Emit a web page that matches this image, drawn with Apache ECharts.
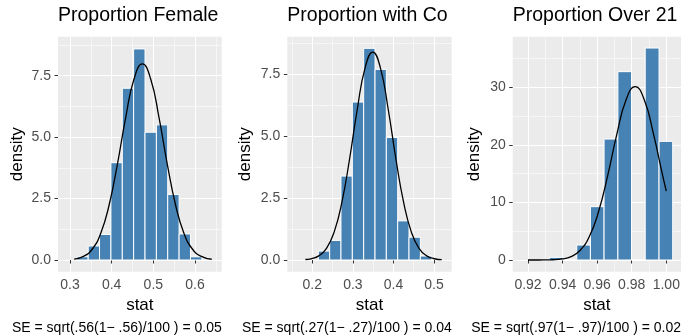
<!DOCTYPE html>
<html>
<head>
<meta charset="utf-8">
<script src="https://cdn.jsdelivr.net/npm/echarts@6/dist/echarts.min.js"></script>
<style>
  html, body { margin: 0; padding: 0; background: #fff; }
  #chart { width: 687px; height: 336px; }
</style>
</head>
<body>
<div id="chart"></div>
<script>
// panel titles + captions
const titles = ['Proportion Female', 'Proportion with Co', 'Proportion Over 21'];
const captions = [
  'SE = sqrt(.56(1\u2212 .56)/100 ) = 0.05',
  'SE = sqrt(.27(1\u2212 .27)/100 ) = 0.04',
  'SE = sqrt(.97(1\u2212 .97)/100 ) = 0.02'
];

// histogram bin edges and densities
const femaleBreaks = [0.3164, 0.3437, 0.3709, 0.3982, 0.4255, 0.4527, 0.4800, 0.5073, 0.5345, 0.5618, 0.5891, 0.6164];
const femaleDensity = [0.13, 0.57, 1.04, 3.96, 6.99, 8.59, 5.2, 5.5, 2.67, 1.06, 0.13];
const collegeBreaks = [0.2148, 0.2428, 0.2707, 0.2987, 0.3266, 0.3546, 0.3825, 0.4105, 0.4384, 0.4664, 0.4943];
const collegeDensity = [0.36, 0.79, 3.39, 6.38, 8.55, 7.70, 4.95, 1.58, 0.92, 0.16];
const over21Breaks = [0.9323, 0.9402, 0.9482, 0.9561, 0.9640, 0.9720, 0.9799, 0.9878, 0.9958, 1.0037];
const over21Density = [0.46, 0, 2.6, 9.26, 21.0, 32.7, 0, 36.8, 20.6];

// normal curve points
const femaleCurve = [[0.31, 0.038], [0.3336, 0.158], [0.3536, 0.448], [0.3736, 1.080], [0.3936, 2.218], [0.4136, 3.884],
  [0.4336, 5.794], [0.4536, 7.366], [0.4736, 7.979], [0.4936, 7.366], [0.5136, 5.794], [0.5336, 3.884],
  [0.5536, 2.218], [0.5736, 1.080], [0.5936, 0.448], [0.6136, 0.158], [0.64, 0.031]];
const collegeCurve = [[0.183, 0.019], [0.197, 0.050], [0.216, 0.167], [0.235, 0.472], [0.254, 1.137], [0.273, 2.335],
  [0.292, 4.089], [0.311, 6.099], [0.330, 7.753], [0.349, 8.399], [0.368, 7.753], [0.387, 6.099],
  [0.406, 4.089], [0.425, 2.335], [0.444, 1.137], [0.463, 0.472], [0.482, 0.167], [0.501, 0.050], [0.519, 0.014]];
const over21Curve = [[0.92, 0.001], [0.9237, 0.002], [0.929, 0.010], [0.9343, 0.046], [0.9396, 0.180], [0.9449, 0.597],
  [0.9502, 1.689], [0.9555, 4.074], [0.9608, 8.371], [0.9661, 14.66], [0.9714, 21.86], [0.9767, 27.79],
  [0.982, 30.11], [0.9873, 27.79], [0.9926, 21.86], [0.9979, 14.66], [1.00, 11.97]];

// axis ticks
const femaleXTicks = [0.3, 0.4, 0.5, 0.6];
const femaleXMinor = [0.35, 0.45, 0.55, 0.65];
const collegeXTicks = [0.2, 0.3, 0.4, 0.5];
const collegeXMinor = [0.15, 0.25, 0.35, 0.45];
const over21XTicks = [0.92, 0.94, 0.96, 0.98, 1.00];
const over21XMinor = [0.93, 0.95, 0.97, 0.99];
const densityYTicks = [0, 2.5, 5, 7.5];
const densityYMinor = [1.25, 3.75, 6.25, 8.75];
const over21YTicks = [0, 10, 20, 30];
const over21YMinor = [5, 15, 25, 35];

const FONT = 'Liberation Sans, Arial, sans-serif';

const panels = [
  {grid: {left: 58, top: 36.7, width: 163.7, height: 235}, xMin: 0.2712, xMax: 0.664, yMin: -0.476, yMax: 9.088,
    breaks: femaleBreaks, dens: femaleDensity, curve: femaleCurve,
    xTicks: femaleXTicks, xMinor: femaleXMinor, yTicks: densityYTicks, yMinor: densityYMinor, xDig: 1, yDig: 1, yGap: 32},
  {grid: {left: 287.3, top: 36.7, width: 164.4, height: 235}, xMin: 0.1384, xMax: 0.5436, yMin: -0.473, yMax: 9.02,
    breaks: collegeBreaks, dens: collegeDensity, curve: collegeCurve,
    xTicks: collegeXTicks, xMinor: collegeXMinor, yTicks: densityYTicks, yMinor: densityYMinor, xDig: 1, yDig: 1, yGap: 33},
  {grid: {left: 512.7, top: 36.7, width: 168.3, height: 235}, xMin: 0.91115, xMax: 1.0085, yMin: -2.03, yMax: 38.77,
    breaks: over21Breaks, dens: over21Density, curve: over21Curve,
    xTicks: over21XTicks, xMinor: over21XMinor, yTicks: over21YTicks, yMinor: over21YMinor, xDig: 2, yDig: 0, yGap: 30}
];

const grid = [], xAxis = [], yAxis = [], series = [], title = [];

panels.forEach((p, i) => {
  grid.push(Object.assign({show: true, backgroundColor: '#EBEBEB', borderWidth: 0}, p.grid));

  // major axes
  xAxis.push({
    gridIndex: i, type: 'value', min: p.xMin, max: p.xMax,
    axisLine: {show: false},
    axisTick: {show: true, length: 3.5, lineStyle: {color: '#333', width: 1}, customValues: p.xTicks},
    axisLabel: {customValues: p.xTicks, color: '#4D4D4D', fontSize: 14, fontFamily: FONT, margin: 6,
      formatter: v => v.toFixed(p.xDig)},
    splitLine: {show: true, lineStyle: {color: '#fff', width: 1.1}},
    name: 'stat', nameLocation: 'middle', nameGap: 25,
    nameTextStyle: {color: '#000', fontSize: 17, fontFamily: FONT}
  });
  yAxis.push({
    gridIndex: i, type: 'value', min: p.yMin, max: p.yMax,
    axisLine: {show: false},
    axisTick: {show: true, length: 3.5, lineStyle: {color: '#333', width: 1}, customValues: p.yTicks},
    axisLabel: {customValues: p.yTicks, color: '#4D4D4D', fontSize: 14, fontFamily: FONT, margin: 7,
      formatter: v => v.toFixed(p.yDig)},
    splitLine: {show: true, lineStyle: {color: '#fff', width: 1.1}},
    name: 'density', nameLocation: 'middle', nameGap: p.yGap,
    nameTextStyle: {color: '#000', fontSize: 17, fontFamily: FONT}
  });
  // minor grid axes
  xAxis.push({
    gridIndex: i, type: 'value', min: p.xMin, max: p.xMax, position: 'top',
    axisLine: {show: false}, axisLabel: {show: false},
    axisTick: {show: false, customValues: p.xMinor},
    splitLine: {show: true, lineStyle: {color: '#fff', width: 0.55}}
  });
  yAxis.push({
    gridIndex: i, type: 'value', min: p.yMin, max: p.yMax, position: 'right',
    axisLine: {show: false}, axisLabel: {show: false},
    axisTick: {show: false, customValues: p.yMinor},
    splitLine: {show: true, lineStyle: {color: '#fff', width: 0.55}}
  });

  const bars = p.dens.map((d, k) => [p.breaks[k], p.breaks[k + 1], d]);
  series.push({
    type: 'custom', xAxisIndex: 2 * i, yAxisIndex: 2 * i, data: bars, z: 2,
    renderItem: (params, api) => {
      const a = api.coord([api.value(0), api.value(2)]);
      const b = api.coord([api.value(1), 0]);
      return {
        type: 'rect',
        shape: {x: a[0], y: a[1], width: b[0] - a[0], height: b[1] - a[1]},
        style: {fill: '#4682B4', stroke: '#fff', lineWidth: 1}
      };
    }
  });
  series.push({
    type: 'line', xAxisIndex: 2 * i, yAxisIndex: 2 * i, data: p.curve, z: 3,
    smooth: true, showSymbol: false, silent: true,
    lineStyle: {color: '#000', width: 1.3}
  });

  title.push({
    text: titles[i], left: p.grid.left, top: 6, padding: 0,
    textStyle: {color: '#000', fontSize: 19.5, fontWeight: 'normal', fontFamily: FONT}
  });
  title.push({
    text: captions[i], right: 687 - (p.grid.left + p.grid.width), top: 321, padding: 0,
    textStyle: {color: '#000', fontSize: 14, fontWeight: 'normal', fontFamily: FONT}
  });
});

const chart = echarts.init(document.getElementById('chart'), null, {renderer: 'canvas'});
chart.setOption({
  animation: false,
  textStyle: {fontFamily: FONT},
  title, grid, xAxis, yAxis, series
});
</script>
</body>
</html>
